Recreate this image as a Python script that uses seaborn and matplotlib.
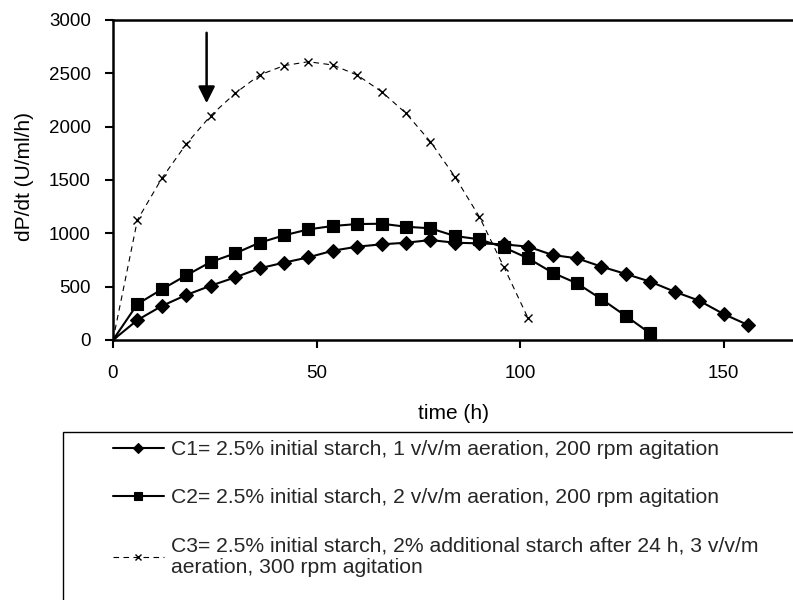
import matplotlib
matplotlib.use("Agg")
import matplotlib.pyplot as plt
from matplotlib.patches import Rectangle
import seaborn as sns
import numpy as np

# ---- data ----
t_c1 = [0, 6, 12, 18, 24, 30, 36, 42, 48, 54, 60, 66, 72, 78, 84, 90, 96, 102,
        108, 114, 120, 126, 132, 138, 144, 150, 156]
c1 = [0, 187, 319, 422, 509, 587, 672, 725, 775, 837, 875, 897, 912, 937, 912,
      906, 897, 875, 797, 766, 688, 619, 547, 453, 369, 244, 141]

t_c2 = [0, 6, 12, 18, 24, 30, 36, 42, 48, 54, 60, 66, 72, 78, 84, 90, 96, 102,
        108, 114, 120, 126, 132]
c2 = [0, 337, 475, 606, 731, 812, 912, 981, 1037, 1069, 1087, 1090, 1062, 1047,
      975, 944, 869, 766, 631, 531, 384, 225, 62]

t_c3 = [0, 6, 12, 18, 24, 30, 36, 42, 48, 54, 60, 66, 72, 78, 84, 90, 96, 102]
c3 = [0, 1125, 1516, 1837, 2103, 2312, 2484, 2572, 2609, 2578, 2484, 2328, 2125,
      1859, 1531, 1156, 688, 203]

labels = [
    "C1= 2.5% initial starch, 1 v/v/m aeration, 200 rpm agitation",
    "C2= 2.5% initial starch, 2 v/v/m aeration, 200 rpm agitation",
    "C3= 2.5% initial starch, 2% additional starch after 24 h, 3 v/v/m\naeration, 300 rpm agitation",
]
x_ticks = [0, 50, 100, 150]
y_ticks = [0, 500, 1000, 1500, 2000, 2500, 3000]
arrow_time = 23
arrow_from, arrow_to = 2880, 2220

# ---- style ----
sns.set_style("ticks")
plt.rcParams["font.family"] = ["Liberation Sans", "DejaVu Sans"]

fig = plt.figure(figsize=(7.93, 6.0), dpi=100)
ax = fig.add_axes([113 / 793, 1 - 340 / 600, 680 / 793, 320 / 600])

sns.lineplot(x=t_c1, y=c1, ax=ax, color="black", lw=1.5, marker="D", ms=7,
             mec="black", mew=0.8, markevery=slice(1, None), label=labels[0],
             sort=False, errorbar=None)
sns.lineplot(x=t_c2, y=c2, ax=ax, color="black", lw=1.5, marker="s", ms=8.5,
             mec="black", mew=0.8, markevery=slice(1, None), label=labels[1],
             sort=False, errorbar=None)
sns.lineplot(x=t_c3, y=c3, ax=ax, color="black", lw=0.8, linestyle=(0, (5, 4)),
             marker="x", ms=6, mec="black", mew=1.0, label=labels[2],
             sort=False, errorbar=None)

handles, labs = ax.get_legend_handles_labels()
if ax.get_legend() is not None:
    ax.get_legend().remove()

ax.annotate("", xy=(arrow_time, arrow_to), xytext=(arrow_time, arrow_from),
            arrowprops=dict(arrowstyle="-|>,head_length=1.0,head_width=0.5",
                            lw=1.8, color="black", shrinkA=0, shrinkB=0))

ax.set_xlim(0, 680 / 4.07)
ax.set_ylim(0, 3000)
ax.set_xticks(x_ticks)
ax.set_yticks(y_ticks)
ax.tick_params(axis="both", labelsize=13.5, length=6, width=1.5, color="black",
               labelcolor="black", direction="out")
ax.tick_params(axis="x", pad=12)
ax.tick_params(axis="y", pad=10)
for side in ["left", "bottom", "top"]:
    ax.spines[side].set_color("black")
    ax.spines[side].set_linewidth(1.8)
ax.spines["right"].set_visible(False)

ax.set_xlabel("time (h)", fontsize=15, color="black")
ax.set_ylabel("dP/dt (U/ml/h)", fontsize=15, color="black")
ax.xaxis.set_label_coords(0.5, (340 - 404) / 320)
ax.yaxis.set_label_coords((34 - 113) / 680, 0.51)

# legend box (extends past the figure's right and bottom edges)
fig.add_artist(Rectangle((63 / 793, -0.1), 1.0, (600 - 432) / 600 + 0.1,
                         transform=fig.transFigure, fill=False,
                         edgecolor="black", lw=1.0))
leg = fig.legend(handles, labs, loc="upper left",
                 bbox_to_anchor=(113 / 793, 1 - 440 / 600), frameon=False,
                 fontsize=15.2, handlelength=2.4, handletextpad=0.34,
                 labelspacing=1.38, borderpad=0, borderaxespad=0,
                 markerscale=0.75)
for txt in leg.get_texts():
    txt.set_linespacing(1.2)

fig.savefig("out.png", dpi=100)
